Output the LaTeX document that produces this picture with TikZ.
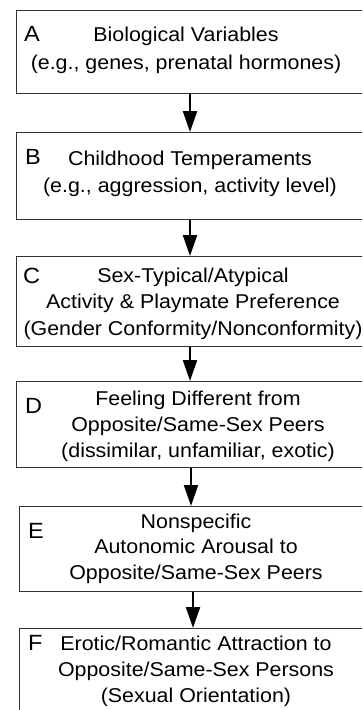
\documentclass[tikz,border=0pt]{standalone}
\usepackage{fontspec}
\setmainfont{Liberation Sans}[FakeStretch=1.07]
\usetikzlibrary{arrows.meta}
\tikzset{
  box/.style={draw=black!80, line width=1.3pt, rectangle, inner sep=0pt, anchor=north west},
  lbl/.style={anchor=base west, inner sep=0pt, font=\fontsize{22}{26}\selectfont},
  txt/.style={anchor=base, inner sep=0pt},
  arr/.style={line width=2.2pt, -{Triangle[length=21pt,width=14pt]}},
}
\newcommand\boxtext[2]{\fontsize{20}{#1}\selectfont\begin{tabular}[t]{@{}c@{}}#2\end{tabular}}
\begin{document}
\begin{tikzpicture}[x=1pt,y=-1pt]
\useasboundingbox (0,0) rectangle (362,710);
\clip (0,0) rectangle (362,710);
\fill[white] (0,0) rectangle (362,710);

% boxes
\node[box, minimum width=356pt, minimum height=83pt] (A) at (16,10) {};
\node[box, minimum width=356pt, minimum height=87pt] (B) at (16,132) {};
\node[box, minimum width=356pt, minimum height=90pt] (C) at (16,256) {};
\node[box, minimum width=356pt, minimum height=86pt] (D) at (16,381) {};
\node[box, minimum width=353pt, minimum height=85pt] (E) at (19,506) {};
\node[box, minimum width=353pt, minimum height=97pt] (F) at (19,628) {};

% letters
\node[lbl] (la) at (24,41) {A};
\node[lbl] (lb) at (25,164) {B};
\node[lbl] (lc) at (23,283) {C};
\node[lbl] (ld) at (25,413) {D};
\node[lbl] (le) at (28,538) {E};
\node[lbl] (lf) at (28,650) {F};

% texts
\node[txt] (ta) at (186,41) {\boxtext{28}{Biological Variables\\(e.g., genes, prenatal hormones)}};
\node[txt] (tb) at (190,165) {\boxtext{27}{Childhood Temperaments\\(e.g., aggression, activity level)}};
\node[txt] (tc) at (193,282) {\boxtext{26.5}{Sex-Typical/Atypical\\Activity \& Playmate Preference\\(Gender Conformity/Nonconformity)}};
\node[txt] (td) at (198,405) {\boxtext{26}{Feeling Different from\\Opposite/Same-Sex Peers\\(dissimilar, unfamiliar, exotic)}};
\node[txt] (te) at (196,528) {\boxtext{25.5}{Nonspecific\\Autonomic Arousal to\\Opposite/Same-Sex Peers}};
\node[txt] (tf) at (196,650) {\boxtext{26}{Erotic/Romantic Attraction to\\Opposite/Same-Sex Persons\\(Sexual Orientation)}};

% arrows
\coordinate (xab) at (190,0);
\coordinate (xbc) at (190,0);
\coordinate (xcd) at (190,0);
\coordinate (xde) at (191,0);
\coordinate (xef) at (193,0);
\draw[arr] (A.south -| xab) -- (B.north -| xab);
\draw[arr] (B.south -| xbc) -- (C.north -| xbc);
\draw[arr] (C.south -| xcd) -- (D.north -| xcd);
\draw[arr] (D.south -| xde) -- (E.north -| xde);
\draw[arr] (E.south -| xef) -- (F.north -| xef);
\end{tikzpicture}
\end{document}
